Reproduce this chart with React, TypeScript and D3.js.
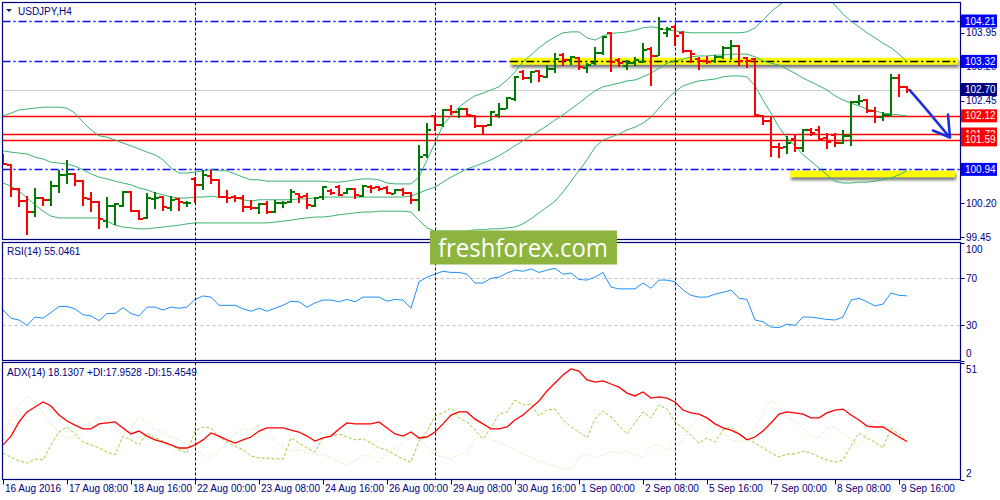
import { useEffect, useRef } from 'react';
import * as d3 from 'd3';

// USDJPY H4, 16 Aug 2016 00:00 .. 9 Sep 2016 20:00, [open, high, low, close]
const bars: number[][] = [
  [101.26, 101.28, 101.04, 101.06], [101.04, 101.06, 100.33, 100.51], [100.51, 100.53, 100.11, 100.24],
  [100.24, 100.35, 99.49, 100.0], [100.0, 100.53, 99.89, 100.31], [100.31, 100.33, 100.13, 100.27],
  [100.27, 100.68, 100.13, 100.57], [100.57, 100.93, 100.42, 100.82], [100.82, 101.15, 100.62, 100.84],
  [100.84, 100.86, 100.57, 100.68], [100.68, 100.71, 100.13, 100.31], [100.29, 100.44, 100.0, 100.22],
  [100.22, 100.24, 99.63, 99.85], [99.8, 100.33, 99.65, 100.13], [100.13, 100.2, 99.71, 100.18],
  [100.13, 100.46, 100.11, 100.44], [100.44, 100.46, 100.0, 100.02], [100.02, 100.04, 99.82, 99.85],
  [99.87, 100.42, 99.85, 100.31], [100.29, 100.44, 100.07, 100.31], [100.33, 100.35, 100.02, 100.11],
  [100.09, 100.35, 100.02, 100.27], [100.29, 100.31, 100.02, 100.22], [100.2, 100.24, 100.11, 100.21],
  [100.73, 100.77, 100.2, 100.6], [100.6, 100.93, 100.49, 100.82], [100.79, 100.93, 100.62, 100.71],
  [100.71, 100.73, 100.31, 100.33], [100.33, 100.49, 100.2, 100.32], [100.33, 100.38, 100.22, 100.31],
  [100.31, 100.38, 100.0, 100.11], [100.11, 100.27, 100.05, 100.09], [100.09, 100.2, 99.96, 100.18],
  [100.18, 100.24, 99.96, 100.0], [100.0, 100.27, 99.98, 100.2], [100.2, 100.24, 100.09, 100.21],
  [100.22, 100.51, 100.2, 100.44], [100.4, 100.42, 100.2, 100.33], [100.35, 100.42, 100.07, 100.16],
  [100.13, 100.33, 100.11, 100.31], [100.33, 100.57, 100.27, 100.55], [100.46, 100.51, 100.38, 100.42],
  [100.55, 100.6, 100.35, 100.38], [100.42, 100.52, 100.4, 100.51], [100.51, 100.53, 100.29, 100.38],
  [100.35, 100.6, 100.33, 100.57], [100.55, 100.6, 100.42, 100.53], [100.55, 100.57, 100.46, 100.51],
  [100.53, 100.57, 100.4, 100.42], [100.4, 100.51, 100.39, 100.49], [100.49, 100.53, 100.35, 100.42],
  [100.42, 100.44, 100.18, 100.27], [100.27, 101.48, 100.02, 101.21], [101.26, 101.96, 101.19, 101.81],
  [102.12, 102.14, 101.79, 101.92], [101.92, 102.27, 101.87, 102.25], [102.25, 102.36, 102.14, 102.2],
  [102.2, 102.29, 102.07, 102.27], [102.27, 102.29, 102.09, 102.14], [102.12, 102.14, 101.85, 101.9],
  [101.9, 101.92, 101.72, 101.89], [101.92, 102.23, 101.9, 102.2], [102.14, 102.4, 102.07, 102.27],
  [102.27, 102.54, 102.26, 102.51], [102.49, 103.0, 102.45, 102.98], [103.09, 103.13, 102.91, 102.95],
  [102.95, 103.11, 102.84, 103.09], [103.11, 103.13, 102.87, 103.0], [102.98, 103.24, 102.95, 103.15],
  [103.15, 103.5, 103.06, 103.37], [103.46, 103.5, 103.22, 103.35], [103.35, 103.44, 103.24, 103.42],
  [103.39, 103.42, 103.13, 103.2], [103.17, 103.28, 103.06, 103.24], [103.28, 103.64, 103.24, 103.5],
  [103.5, 103.87, 103.46, 103.86], [103.95, 103.97, 103.09, 103.31], [103.35, 103.39, 103.2, 103.28],
  [103.22, 103.35, 103.13, 103.28], [103.28, 103.42, 103.22, 103.35], [103.31, 103.72, 103.28, 103.57],
  [103.59, 103.64, 102.78, 103.44], [103.44, 104.3, 103.43, 104.03], [103.95, 104.08, 103.86, 104.03],
  [104.08, 104.12, 103.66, 103.88], [103.95, 103.99, 103.5, 103.55], [103.55, 103.57, 103.28, 103.48],
  [103.37, 103.42, 103.13, 103.33], [103.33, 103.44, 103.26, 103.31], [103.33, 103.46, 103.28, 103.42],
  [103.42, 103.66, 103.37, 103.62], [103.62, 103.79, 103.35, 103.66], [103.66, 103.68, 103.22, 103.33],
  [103.39, 103.42, 103.17, 103.33], [103.37, 103.39, 102.12, 102.14], [102.12, 102.14, 101.92, 102.01],
  [102.01, 102.12, 101.21, 101.43], [101.43, 101.52, 101.19, 101.41], [101.43, 101.68, 101.28, 101.52],
  [101.61, 101.7, 101.32, 101.41], [101.41, 101.83, 101.32, 101.81], [101.81, 101.85, 101.68, 101.74],
  [101.81, 101.9, 101.59, 101.61], [101.63, 101.74, 101.39, 101.54], [101.7, 101.74, 101.43, 101.52],
  [101.52, 101.81, 101.5, 101.68], [101.68, 102.45, 101.46, 102.42], [102.42, 102.58, 102.36, 102.45],
  [102.47, 102.49, 102.18, 102.23], [102.23, 102.31, 101.96, 102.09], [102.09, 102.2, 102.01, 102.14],
  [102.14, 103.04, 102.09, 102.95], [102.95, 103.04, 102.54, 102.76], [102.76, 102.78, 102.62, 102.7],
];

// Bollinger Bands
const bbUpper = [
  102.12, 102.18, 102.25, 102.27, 102.29, 102.31, 102.31, 102.31, 102.29, 102.18,
  101.98, 101.81, 101.68, 101.65, 101.59, 101.52, 101.46, 101.39, 101.32, 101.26,
  101.15, 100.97, 100.86, 100.86, 100.88, 100.91, 100.93, 100.91, 100.91, 100.84,
  100.77, 100.71, 100.71, 100.68, 100.68, 100.68, 100.68, 100.68, 100.68, 100.68,
  100.68, 100.66, 100.66, 100.68, 100.71, 100.73, 100.73, 100.71, 100.64, 100.62,
  100.62, 100.62, 100.77, 101.15, 101.52, 101.92, 102.12, 102.31, 102.45, 102.56,
  102.62, 102.69, 102.76, 102.91, 103.09, 103.31, 103.46, 103.62, 103.75, 103.86,
  103.95, 103.97, 103.97, 103.84, 103.79, 103.88, 103.94, 103.95, 103.97, 104.01,
  104.06, 104.08, 104.06, 104.01, 103.99, 103.97, 103.95, 103.95, 103.95, 103.95,
  103.95, 103.95, 103.95, 103.97, 104.06, 104.23, 104.41, 104.56, 104.67, 104.78,
  104.85, 104.85, 104.81, 104.72, 104.56, 104.36, 104.21, 104.08, 103.95, 103.84,
  103.72, 103.62, 103.48, 103.31,
];
const bbMiddle = [
  101.35, 101.32, 101.3, 101.28, 101.21, 101.17, 101.1, 101.08, 101.06, 101.01,
  100.93, 100.84, 100.77, 100.73, 100.68, 100.64, 100.6, 100.53, 100.49, 100.42,
  100.38, 100.33, 100.31, 100.31, 100.33, 100.33, 100.35, 100.33, 100.33, 100.31,
  100.27, 100.24, 100.27, 100.27, 100.27, 100.27, 100.27, 100.29, 100.29, 100.31,
  100.33, 100.33, 100.33, 100.33, 100.33, 100.33, 100.33, 100.33, 100.33, 100.33,
  100.33, 100.35, 100.42, 100.49, 100.55, 100.66, 100.77, 100.86, 100.95, 101.01,
  101.08, 101.15, 101.24, 101.35, 101.46, 101.57, 101.68, 101.79, 101.9, 102.03,
  102.14, 102.27, 102.4, 102.54, 102.67, 102.76, 102.8, 102.84, 102.89, 102.91,
  102.98, 103.06, 103.17, 103.28, 103.33, 103.37, 103.42, 103.44, 103.44, 103.46,
  103.46, 103.48, 103.48, 103.48, 103.42, 103.33, 103.28, 103.24, 103.15, 103.06,
  102.95, 102.87, 102.78, 102.69, 102.56, 102.47, 102.4, 102.34, 102.27, 102.23,
  102.18, 102.16, 102.14, 102.12,
];
const bbLower = [
  100.64, 100.57, 100.46, 100.31, 100.16, 100.02, 99.91, 99.87, 99.87, 99.87,
  99.87, 99.87, 99.87, 99.8, 99.71, 99.67, 99.65, 99.63, 99.63, 99.65,
  99.67, 99.69, 99.71, 99.74, 99.76, 99.76, 99.76, 99.76, 99.76, 99.76,
  99.76, 99.76, 99.76, 99.76, 99.78, 99.8, 99.82, 99.85, 99.87, 99.89,
  99.89, 99.91, 99.94, 99.96, 99.98, 100.0, 100.0, 100.02, 100.02, 100.02,
  100.02, 100.0, 99.82, 99.65, 99.58, 99.58, 99.58, 99.58, 99.58, 99.61,
  99.61, 99.63, 99.63, 99.65, 99.67, 99.74, 99.85, 99.98, 100.11, 100.24,
  100.44, 100.68, 100.91, 101.15, 101.43, 101.59, 101.65, 101.72, 101.81, 101.87,
  101.96, 102.09, 102.29, 102.49, 102.65, 102.78, 102.84, 102.89, 102.91, 102.93,
  102.98, 103.0, 103.0, 102.98, 102.78, 102.47, 102.18, 101.87, 101.63, 101.46,
  101.26, 101.12, 100.97, 100.82, 100.68, 100.64, 100.64, 100.66, 100.66, 100.68,
  100.71, 100.75, 100.82, 100.91,
];

const rsi = [
  43, 36, 34.5, 30, 37, 36, 41, 46, 46, 44,
  39, 38, 34, 40, 40, 45, 40, 38, 45.5, 45.5,
  43, 45.5, 44.5, 45.5, 52, 55, 54, 47, 47, 47,
  44, 42, 44.5, 42, 44.5, 47, 50.5, 50, 45.5, 49,
  51.5, 51.5, 50, 52, 50, 54, 54, 54, 50.5, 52,
  51.5, 44.5, 67, 71, 73.5, 76, 75, 75, 73.5, 66,
  66, 70, 71, 74.5, 77, 76, 78, 75, 77, 78.5,
  73.5, 74.5, 69, 68.5, 71, 75, 62.5, 61, 61, 61,
  66, 61.5, 68.5, 68.5, 67, 60, 55.5, 54, 54, 56.5,
  58, 60, 53, 52, 34.5, 33, 28.5, 28, 31, 30,
  37, 37, 36, 35, 34.5, 37, 51.5, 53, 50, 46.5,
  48, 57.5, 55.5, 55.05,
];

const adx = [
  16.7, 20.4, 26.3, 30.5, 32.6, 34.7, 33, 29.2, 26.7, 25,
  23.4, 23.4, 25.5, 25.9, 26.3, 23.8, 21.3, 22.5, 20.4, 18.8,
  17.9, 16.7, 15.4, 15.4, 16.7, 18.8, 21.7, 20.4, 18.8, 17.5,
  18.8, 20, 22.5, 23.8, 23.8, 23.8, 22.9, 22.1, 20.4, 18.3,
  19.6, 20.4, 23.4, 25.9, 25.5, 25.5, 25.5, 26.3, 23.8, 21.3,
  20.4, 22.1, 19.6, 20, 22.1, 25.5, 29.2, 30.5, 30.5, 27.5,
  25.5, 23.4, 23.4, 24.2, 27.1, 29.2, 32.2, 35.1, 39.3, 42.6,
  46, 48.5, 47.6, 43.9, 43, 43.5, 42.2, 40.9, 38.4, 37.2,
  38.9, 36.3, 36.8, 36.3, 34.7, 31.3, 30.1, 29.6, 28, 25.5,
  23.8, 22.9, 21.3, 18.8, 20, 22.5, 25.9, 29.6, 30.5, 30.1,
  29.6, 28, 28, 30.1, 31.3, 31.7, 29.2, 27.1, 24.6, 24.2,
  24.2, 22.1, 20, 18.13,
];
const plusDi = [
  13.3, 11.6, 10, 9.1, 10.8, 10.4, 16.7, 22.1, 24.2, 21.3,
  17.9, 16.7, 15.4, 13.7, 12.5, 20.4, 18.8, 16.7, 21.7, 19.6,
  18.3, 16.7, 14.6, 13.3, 22.5, 24.2, 23.8, 20, 17.9, 16.2,
  14.6, 12.1, 11.2, 11.2, 10.8, 10.8, 19.6, 17.5, 15.4, 13.7,
  19.6, 20.4, 21.3, 20, 18.8, 19.2, 17.5, 15.4, 14.6, 12.5,
  10.8, 9.5, 18.3, 22.5, 28.8, 30.1, 32.2, 28, 26.3, 22.9,
  19.2, 23.8, 29.6, 30.5, 35.5, 33.4, 33.8, 28.8, 31.3, 31.7,
  27.1, 24.2, 22.1, 19.6, 27.5, 30.9, 28.4, 24.6, 21.3, 25.9,
  30.5, 28, 33.4, 31.7, 26.3, 23.8, 20.8, 17.5, 19.6, 17.9,
  22.9, 24.2, 21.3, 19.2, 17.5, 15.4, 13.3, 11.6, 12.9, 12.9,
  14.1, 13.3, 11.6, 10.4, 9.5, 10.4, 16.2, 21.7, 19.6, 17.9,
  15.4, 23.8, 21.3, 17.95,
];
const minusDi = [
  18.8, 28, 33.4, 37.2, 34.7, 30.1, 25.5, 22.1, 19.2, 20.8,
  25, 25.9, 28.4, 26.3, 22.9, 20.8, 23.4, 28.4, 26.3, 23.4,
  22.1, 20, 18.8, 17.1, 14.6, 12.5, 10.8, 14.1, 17.9, 21.3,
  23.4, 22.9, 24.6, 21.3, 17.9, 16.2, 14.1, 14.6, 13.3, 12.9,
  12.5, 11.2, 9.5, 8.3, 10, 12.5, 12.1, 9.1, 13.3, 15.4,
  17.5, 20, 19.2, 15.8, 12.5, 11.6, 10.8, 12.5, 13.3, 18.8,
  22.5, 18.8, 17.9, 16.2, 14.6, 12.9, 11.6, 10, 8.7, 7.9,
  6.6, 6.6, 11.2, 12.9, 11.2, 12.5, 13.7, 13.3, 14.1, 12.5,
  11.6, 16.2, 16.7, 14.6, 16.2, 18.3, 24.6, 28, 25.9, 24.2,
  22.5, 18.8, 17.9, 19.2, 23.8, 30.5, 35.1, 33.4, 28, 26.7,
  23.8, 20.8, 19.6, 23.8, 24.2, 21.7, 18.8, 15.8, 21.7, 26.7,
  25, 22.9, 20, 15.45,
];

// one label every 8 bars
const timeLabels = [
  '16 Aug 2016', '17 Aug 08:00', '18 Aug 16:00', '22 Aug 00:00', '23 Aug 08:00',
  '24 Aug 16:00', '26 Aug 00:00', '29 Aug 08:00', '30 Aug 16:00', '1 Sep 00:00',
  '2 Sep 08:00', '5 Sep 16:00', '7 Sep 00:00', '8 Sep 08:00', '9 Sep 16:00',
];
const weekStarts = [24, 54, 84];
const priceTicks = [103.95, 103.2, 102.45, 101.7, 100.95, 100.2, 99.45];
const blueLevels = [104.21, 103.32, 100.94];
const redLevels = [102.12, 101.72, 101.59];
const lastPrice = 102.7;
const rsiLevels = [70, 30];
const rsiTicks = [100, 70, 30, 0];
const adxTicks = [51, 2];

const App = () => {
  const svgRef = useRef<SVGSVGElement | null>(null);

  useEffect(() => {
    if (!svgRef.current) return;
    const width = 1000;
    const height = 500;
    const svg = d3.select(svgRef.current).attr('width', width).attr('height', height);
    svg.selectAll('*').remove();

    const font = "'Liberation Sans', Arial, sans-serif";
    const navy = '#000080';
    const L = 2.5, R = 960.5;
    const mainTop = 2.5, mainBot = 239.5;
    const rsiTop = 242.5, rsiBot = 360.5;
    const adxTop = 362.5, adxBot = 479.5;

    const x = d3.scaleLinear().domain([0, 1]).range([3, 11]);
    const y = d3.scaleLinear().domain([99.45, 104.21]).range([237, 21]);
    const yR = d3.scaleLinear().domain([30, 70]).range([325.3, 278.3]);
    const yA = d3.scaleLinear().domain([2, 51]).range([480, 363]);

    svg.append('rect').attr('width', width).attr('height', height).attr('fill', '#fff');

    const defs = svg.append('defs');
    const clip = (id: string, y0: number, y1: number) =>
      defs.append('clipPath').attr('id', id).append('rect')
        .attr('x', L + 0.5).attr('y', y0 + 0.5).attr('width', R - L - 1).attr('height', y1 - y0 - 1);
    clip('cMain', mainTop, mainBot);
    clip('cRsi', rsiTop, rsiBot);
    clip('cAdx', adxTop, adxBot);
    const sh = defs.append('filter').attr('id', 'sh').attr('x', '-5%').attr('y', '-50%').attr('width', '110%').attr('height', '250%');
    sh.append('feDropShadow').attr('dx', 1).attr('dy', 3).attr('stdDeviation', 1.8)
      .attr('flood-color', '#000').attr('flood-opacity', 0.55);

    // ---------- main window
    const g = svg.append('g').attr('clip-path', 'url(#cMain)');

    // yellow zones
    g.append('rect').attr('x', x(63.4)).attr('width', 958 - x(63.4))
      .attr('y', y(103.4)).attr('height', y(103.25) - y(103.4))
      .attr('fill', '#ffff00').attr('filter', 'url(#sh)');
    g.append('rect').attr('x', x(98.4)).attr('width', 955 - x(98.4))
      .attr('y', y(100.915)).attr('height', y(100.77) - y(100.915))
      .attr('fill', '#ffff00').attr('filter', 'url(#sh)');

    const hline = (p: number, color: string, dash: string | null, x0 = L, x1 = R) =>
      g.append('line').attr('x1', x0).attr('x2', x1)
        .attr('y1', Math.round(y(p)) + 0.5).attr('y2', Math.round(y(p)) + 0.5)
        .attr('stroke', color).attr('stroke-width', 1)
        .attr('stroke-dasharray', dash);

    hline(lastPrice, '#cfcfcf', null);
    redLevels.forEach(p => hline(p, '#ff0000', null).attr('stroke-width', 1.4));
    blueLevels.forEach((p, i) => {
      if (i === 1) {
        hline(p, '#0a0aff', '8,3,2,3', L, x(63.4)).attr('stroke-width', 1.5);
        hline(p, '#000', '8,3,2,3', x(63.4), 958).attr('stroke-width', 1.4);
      } else hline(p, '#0a0aff', '8,3,2,3').attr('stroke-width', 1.5);
    });

    // bollinger bands
    const band = d3.line<number>().x((_, i) => x(i)).y(d => y(d));
    [bbUpper, bbMiddle, bbLower].forEach(s => {
      g.append('path').attr('d', band(s)).attr('fill', 'none')
        .attr('stroke', '#3cb371').attr('stroke-width', 1);
    });

    // OHLC bars
    bars.forEach((b, i) => {
      const [o, h, l, c] = b;
      const cx = Math.round(x(i));
      const col = c >= o ? '#007a00' : '#ff0000';
      const yh = Math.round(y(h)), yl = Math.round(y(l));
      g.append('rect').attr('x', cx - 1).attr('y', yh).attr('width', 2).attr('height', Math.max(1, yl - yh)).attr('fill', col);
      g.append('rect').attr('x', cx - 4).attr('y', Math.round(y(o)) - 1).attr('width', 3).attr('height', 2).attr('fill', col);
      g.append('rect').attr('x', cx + 1).attr('y', Math.round(y(c)) - 1).attr('width', 3).attr('height', 2).attr('fill', col);
    });

    // forecast arrow
    const ax = x(bars.length - 1);
    const ay = y(lastPrice);
    const arrow = svg.append('g').attr('fill', 'none').attr('stroke', '#1b2fd8')
      .attr('stroke-width', 2.6).attr('stroke-linecap', 'round').attr('stroke-linejoin', 'round');
    arrow.append('path').attr('d', `M${ax + 3},${ay + 1} C${ax + 14},${ay + 13} ${ax + 28},${ay + 30} ${ax + 42},${ay + 47}`);
    arrow.append('path').attr('d', `M${ax + 26},${ay + 41} L${ax + 43},${ay + 48} L${ax + 41},${ay + 25}`);

    // ---------- RSI window
    const gr = svg.append('g').attr('clip-path', 'url(#cRsi)');
    rsiLevels.forEach(v => {
      gr.append('line').attr('x1', L).attr('x2', R).attr('y1', Math.round(yR(v)) + 0.5).attr('y2', Math.round(yR(v)) + 0.5)
        .attr('stroke', '#c0c0c0').attr('stroke-dasharray', '3,3');
    });
    gr.append('path').attr('d', d3.line<number>().x((_, i) => x(i)).y(d => yR(d))(rsi))
      .attr('fill', 'none').attr('stroke', '#1e90ff').attr('stroke-width', 1);

    // ---------- ADX window
    const ga = svg.append('g').attr('clip-path', 'url(#cAdx)');
    const adxLine = d3.line<number>().x((_, i) => x(i)).y(d => yA(d));
    ga.append('path').attr('d', adxLine(minusDi)).attr('fill', 'none').attr('stroke', '#f5deb3')
      .attr('stroke-width', 1).attr('stroke-dasharray', '2,2');
    ga.append('path').attr('d', adxLine(plusDi)).attr('fill', 'none').attr('stroke', '#9acd32')
      .attr('stroke-width', 1).attr('stroke-dasharray', '3,2');
    ga.append('path').attr('d', adxLine(adx)).attr('fill', 'none').attr('stroke', '#ff0000')
      .attr('stroke-width', 1.3);

    // period separators
    weekStarts.forEach(i => {
      svg.append('line').attr('x1', Math.round(x(i)) + 0.5).attr('x2', Math.round(x(i)) + 0.5)
        .attr('y1', mainTop).attr('y2', adxBot)
        .attr('stroke', navy).attr('stroke-width', 1).attr('stroke-dasharray', '3,2');
    });

    // window frames
    [[mainTop, mainBot], [rsiTop, rsiBot], [adxTop, adxBot]].forEach(([t, b]) => {
      svg.append('rect').attr('x', L).attr('y', t).attr('width', R - L).attr('height', b - t)
        .attr('fill', 'none').attr('stroke', navy).attr('stroke-width', 1.2);
    });

    const txt = (s: string, tx: number, ty: number, col = navy, size = 10) =>
      svg.append('text').attr('x', tx).attr('y', ty).attr('fill', col)
        .attr('font-family', font).attr('font-size', size).text(s);

    // labels of windows
    svg.append('path').attr('d', 'M6,9 L12,9 L9,12 Z').attr('fill', '#1a1a5a');
    txt('USDJPY,H4', 18, 14.5);
    txt('RSI(14) 55.0461', 7, 255);
    txt('ADX(14) 18.1307 +DI:17.9528 -DI:15.4549', 7, 375.5);

    // price axis
    const tick = (ty: number) =>
      svg.append('line').attr('x1', R).attr('x2', R + 4).attr('y1', Math.round(ty) + 0.5).attr('y2', Math.round(ty) + 0.5)
        .attr('stroke', navy);
    priceTicks.forEach(p => { tick(y(p)); txt(p.toFixed(2), 966, y(p) + 3.6); });
    rsiTicks.forEach(v => {
      const ty = Math.max(249, Math.min(353, yR(v)));
      tick(yR(v)); txt(String(v), 966, ty + 3.6);
    });
    adxTicks.forEach(v => {
      const ty = Math.max(369, Math.min(473, yA(v)));
      tick(yA(v)); txt(String(v), 966, ty + 3.6);
    });

    const box = (p: number, fill: string) => {
      svg.append('rect').attr('x', 961).attr('y', y(p) - 6.5).attr('width', 36).attr('height', 13).attr('fill', fill);
      txt(p.toFixed(2), 965, y(p) + 3.6, '#fff');
    };
    box(blueLevels[0], '#0000ff');
    box(blueLevels[1], '#0000ff');
    box(lastPrice, '#000080');
    redLevels.forEach(p => box(p, '#ff0000'));
    box(blueLevels[2], '#0000ff');

    // time axis
    timeLabels.forEach((s, k) => {
      const tx = Math.round(x(k * 8)) + 0.5;
      svg.append('line').attr('x1', tx).attr('x2', tx).attr('y1', adxBot).attr('y2', adxBot + 5).attr('stroke', navy);
      txt(s, tx + 1.5, 492);
    });

    // watermark
    svg.append('rect').attr('x', 430).attr('y', 230.5).attr('width', 187).attr('height', 34).attr('fill', '#8cb43e');
    svg.append('text').attr('x', 438).attr('y', 257).attr('fill', '#fff')
      .attr('font-family', "'Open Sans', 'DejaVu Sans', sans-serif").attr('font-size', 26)
      .attr('textLength', 170).attr('lengthAdjust', 'spacingAndGlyphs').text('freshforex.com');
  }, []);

  return (
    <svg ref={svgRef} style={{ position: 'absolute', left: 0, top: 0 }}></svg>
  );
};

export default App;
